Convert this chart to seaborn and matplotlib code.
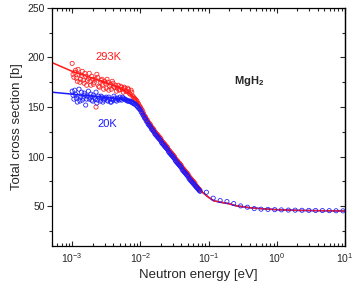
import numpy as np
import pandas as pd
import matplotlib
matplotlib.use("Agg")
import matplotlib.pyplot as plt
import seaborn as sns
from matplotlib.ticker import LogLocator, MultipleLocator, NullFormatter

# measured points, dense part (eV)
energy_lo = [0.00100, 0.00106, 0.00112, 0.00119, 0.00126, 0.00133, 0.00141, 0.00150, 0.00158, 0.00168,
             0.00178, 0.00188, 0.00200, 0.00211, 0.00224, 0.00237, 0.00251, 0.00266, 0.00282, 0.00299,
             0.00316, 0.00335, 0.00355, 0.00376, 0.00398, 0.00422, 0.00447, 0.00473, 0.00501, 0.00531,
             0.00562, 0.00596, 0.00631, 0.00668, 0.00708, 0.00750, 0.00794, 0.00841, 0.00891, 0.00944,
             0.0100, 0.0106, 0.0112, 0.0119, 0.0126, 0.0133, 0.0141, 0.0150, 0.0158, 0.0168,
             0.0178, 0.0188, 0.0200, 0.0211, 0.0224, 0.0237, 0.0251, 0.0266, 0.0282, 0.0299,
             0.0316, 0.0335, 0.0355, 0.0376, 0.0398, 0.0422, 0.0447, 0.0473, 0.0501, 0.0531,
             0.0562, 0.0596, 0.0631, 0.0668, 0.0708, 0.0750]

sigma_293k = [194, 180, 187, 176, 183, 178, 186, 174, 181, 177,
              184, 172, 178, 175, 150, 180, 170, 177, 173, 176,
              169, 175, 171, 168, 174, 170, 166, 172, 168, 170,
              165, 169, 166, 168, 163, 165, 160, 158, 156, 153,
              150, 147, 143, 140, 137, 134, 132, 129, 127, 124,
              122, 120, 118, 115, 113, 111, 109, 106, 104, 102,
              100, 97, 95, 93, 91, 88, 86, 84, 82, 79,
              77, 75, 73, 70, 68, 66]

sigma_20k = [166, 158, 163, 155, 168, 160, 157, 164, 152, 161,
             158, 163, 156, 160, 165, 157, 159, 161, 155, 158,
             160, 156, 158, 155, 157, 159, 156, 158, 160, 157,
             159, 158, 157, 156, 156, 155, 154, 153, 151, 149,
             147, 144, 141, 138, 135, 132, 130, 127, 125, 122,
             120, 118, 116, 113, 111, 109, 107, 104, 102, 100,
             98, 95, 93, 91, 89, 86, 84, 82, 80, 77,
             75, 73, 71, 69, 67, 65]

# second interleaved set of measured points
energy_lo2 = [0.00103, 0.00109, 0.00115, 0.00122, 0.00130, 0.00137, 0.00145, 0.00154, 0.00163, 0.00173,
              0.00183, 0.00194, 0.00205, 0.00218, 0.00230, 0.00244, 0.00259, 0.00274, 0.00290, 0.00307,
              0.00325, 0.00345, 0.00365, 0.00387, 0.00410, 0.00434, 0.00460, 0.00487, 0.00516, 0.00546,
              0.00579, 0.00613, 0.00649, 0.00688, 0.00729, 0.00772, 0.00818, 0.00866, 0.00917, 0.00972,
              0.0103, 0.0109, 0.0115, 0.0122, 0.0130, 0.0137, 0.0145, 0.0154, 0.0163, 0.0173,
              0.0183, 0.0194, 0.0205, 0.0218, 0.0230, 0.0244, 0.0259, 0.0274, 0.0290, 0.0307,
              0.0325, 0.0345, 0.0365, 0.0387, 0.0410, 0.0434, 0.0460, 0.0487, 0.0516, 0.0546,
              0.0579, 0.0613, 0.0649, 0.0688, 0.0729]

sigma_293k_2 = [183, 185, 179, 188, 175, 182, 177, 184, 172, 179,
                176, 181, 173, 178, 183, 171, 175, 178, 168, 174,
                178, 167, 173, 176, 170, 172, 169, 167, 171, 168,
                170, 166, 169, 164, 167, 161, 159, 157, 154, 151,
                148, 145, 141, 138, 135, 133, 130, 128, 125, 123,
                121, 119, 116, 114, 112, 110, 107, 105, 103, 101,
                98, 96, 94, 92, 89, 87, 85, 83, 80, 78,
                76, 74, 71, 69, 67]

sigma_20k_2 = [162, 167, 159, 161, 156, 165, 159, 162, 158, 166,
               160, 157, 162, 158, 154, 161, 156, 160, 157, 159,
               157, 160, 155, 158, 161, 157, 159, 157, 158, 160,
               158, 157, 156, 156, 155, 154, 153, 152, 150, 148,
               145, 142, 139, 136, 133, 131, 128, 126, 123, 121,
               119, 117, 114, 112, 110, 108, 105, 103, 101, 99,
               96, 94, 92, 90, 87, 85, 83, 81, 78, 76,
               74, 72, 70, 68, 66]

# sparse points above 0.09 eV
energy_hi = [0.093, 0.117, 0.148, 0.186, 0.234, 0.295, 0.371, 0.467, 0.589, 0.741,
             0.933, 1.17, 1.48, 1.86, 2.34, 2.95, 3.71, 4.67, 5.89, 7.41, 9.33]
sigma_hi = [64.1, 58.1, 55.7, 54.7, 52.7, 50.3, 49.0, 47.6, 47.0, 46.8,
            46.5, 46.3, 46.1, 46.0, 45.9, 45.8, 45.7, 45.6, 45.5, 45.4, 45.3]

# calculated curves
line_energy = [5e-4, 1e-3, 2e-3, 3e-3, 4e-3, 5e-3, 6e-3, 7e-3, 8e-3, 9e-3,
               1e-2, 1.26e-2, 1.58e-2, 2e-2, 2.51e-2, 3.16e-2, 3.98e-2, 5.01e-2, 6.31e-2, 6.8e-2,
               0.08, 0.1, 0.119, 0.15, 0.2, 0.25, 0.4, 0.6, 1, 2, 4, 10]
line_293k = [195, 186, 179, 175, 172, 169, 166, 163, 160, 156,
             150, 137, 127, 117, 108, 99, 90, 81, 72, 68,
             64.5, 59, 55.5, 54, 52.5, 50.5, 48.5, 47.5, 46.5, 45.8, 45.5, 45.2]
line_20k = [165, 163, 161, 160, 159, 158, 157.5, 157, 155.5, 153,
            148, 135, 125.5, 116.5, 107.5, 98.5, 89.5, 80.5, 71.5, 67.5,
            64.5, 59, 55.5, 54, 52.5, 50.5, 48.5, 47.5, 46.5, 45.8, 45.5, 45.2]

sns.set_theme(style="ticks")
plt.rcParams["font.family"] = ["Liberation Sans", "DejaVu Sans"]
plt.rcParams["mathtext.fontset"] = "custom"
plt.rcParams["mathtext.rm"] = "Liberation Sans"
plt.rcParams["mathtext.it"] = "Liberation Sans:italic"
plt.rcParams["mathtext.bf"] = "Liberation Sans:bold"

RED = "#ff1a1a"
BLUE = "#1a1aff"

fig = plt.figure(figsize=(3.56, 2.81), dpi=100)
ax = fig.add_axes([0.145, 0.125, 0.824, 0.847])
ax.set_xscale("log")

n = len(line_energy)
lines = pd.DataFrame({
    "E": line_energy + line_energy,
    "sigma": line_20k + line_293k,
    "T": ["20K"] * n + ["293K"] * n,
})
sns.lineplot(data=lines, x="E", y="sigma", hue="T", hue_order=["20K", "293K"],
             palette={"20K": BLUE, "293K": RED}, lw=1.1, sort=False,
             legend=False, ax=ax)

sns.scatterplot(x=energy_lo + energy_lo2, y=sigma_293k + sigma_293k_2, marker="o", s=9,
                fc="none", ec=RED, linewidth=0.55, ax=ax, zorder=3)
sns.scatterplot(x=energy_lo + energy_lo2 + energy_hi, y=sigma_20k + sigma_20k_2 + sigma_hi,
                marker="o", s=9, fc="none", ec=BLUE, linewidth=0.55, ax=ax, zorder=4)

ax.set_xlim(5e-4, 10)
ax.set_ylim(10, 250)

ax.xaxis.set_major_locator(LogLocator(base=10, numticks=10))
ax.xaxis.set_minor_locator(LogLocator(base=10, subs=np.arange(2, 10) * 1.0, numticks=100))
ax.xaxis.set_minor_formatter(NullFormatter())
ax.yaxis.set_major_locator(MultipleLocator(50))
ax.yaxis.set_minor_locator(MultipleLocator(25))

ax.tick_params(axis="x", which="both", direction="in", top=True, bottom=True,
               labelsize=7.5, pad=4, width=0.8)
ax.tick_params(axis="x", which="major", length=3.5)
ax.tick_params(axis="x", which="minor", length=2)
ax.tick_params(axis="y", which="both", direction="out", left=True, right=False,
               labelsize=7.5, pad=1.5, width=0.8)
ax.tick_params(axis="y", which="major", length=3.5)
ax.tick_params(axis="y", which="minor", length=2.5)

sec = ax.secondary_yaxis("right")
sec.yaxis.set_major_locator(MultipleLocator(50))
sec.yaxis.set_minor_locator(MultipleLocator(25))
sec.tick_params(axis="y", which="both", direction="in", labelright=False, width=0.8)
sec.tick_params(axis="y", which="major", length=3.5)
sec.tick_params(axis="y", which="minor", length=2.5)

for s in ax.spines.values():
    s.set_linewidth(0.9)
    s.set_color("black")
sec.spines["right"].set_linewidth(0.9)

ax.set_xlabel("Neutron energy [eV]", fontsize=9.5, labelpad=3)
ax.set_ylabel("Total cross section [b]", fontsize=9.5, labelpad=3)

ax.text(2.2e-3, 200, "293K", color=RED, fontsize=8, ha="left", va="center")
ax.text(2.35e-3, 133, "20K", color=BLUE, fontsize=8, ha="left", va="center")
ax.text(0.6215, 0.693, r"$\mathbf{MgH_2}$", transform=ax.transAxes,
        fontsize=8, ha="left", va="center")

fig.savefig("out.png", dpi=100)
